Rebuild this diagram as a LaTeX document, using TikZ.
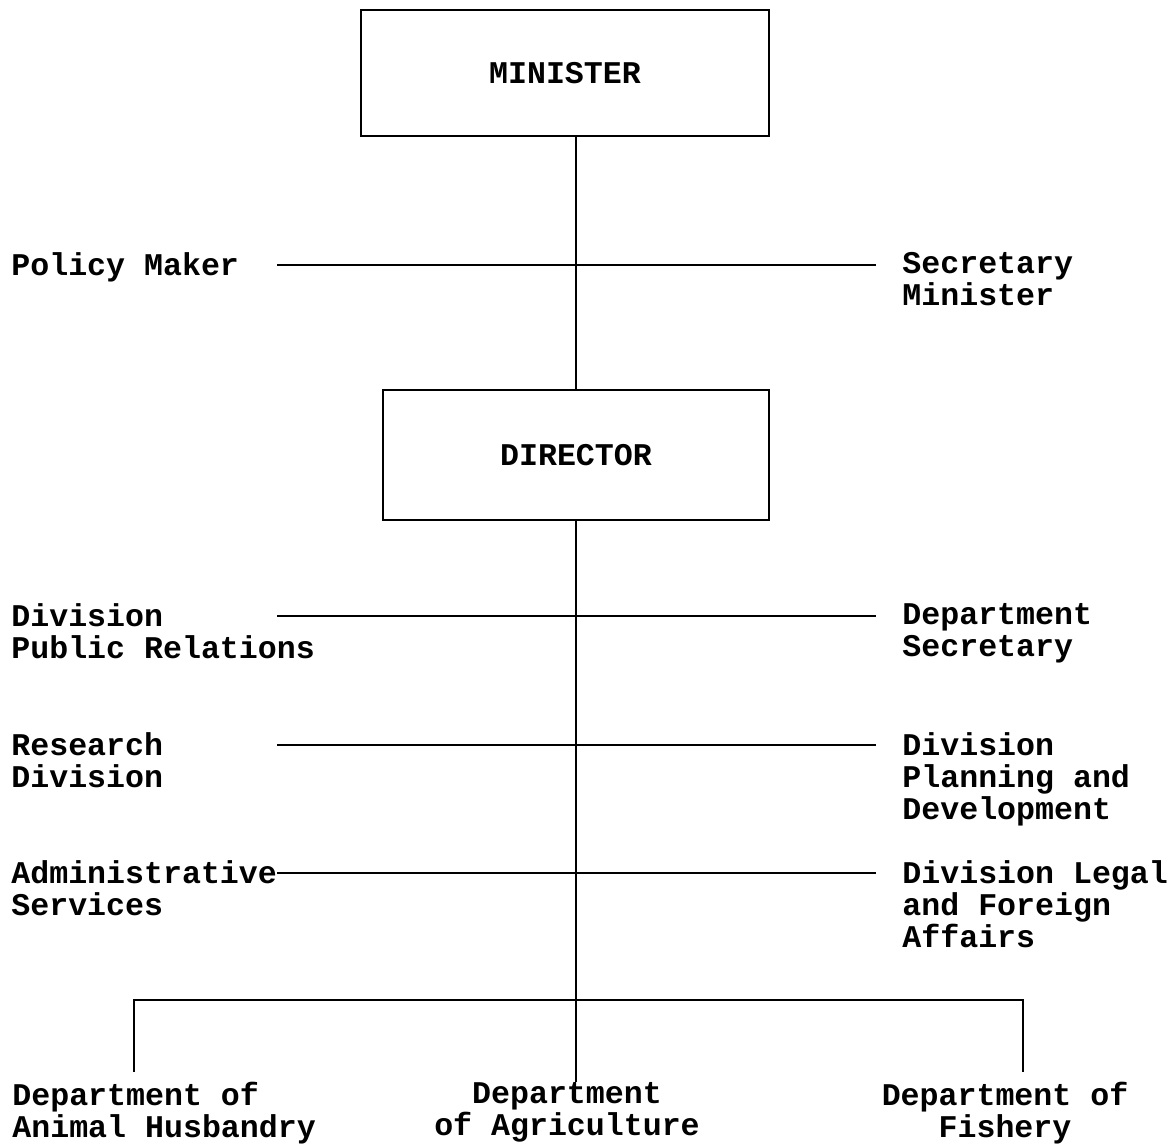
\documentclass[tikz,border=0pt]{standalone}
\usepackage{fontspec}
\setmonofont{Liberation Mono}
\usepackage{tikz}
\usetikzlibrary{positioning}

\newcommand{\orgfont}{\fontsize{15.8}{16}\selectfont\ttfamily\bfseries}
\tikzset{
  post/.style={draw, line width=1.2pt, inner sep=0pt, font=\orgfont},
  lab/.style={inner sep=0pt, align=left, anchor=north west, font=\orgfont},
  link/.style={line width=1.2pt},
}

\begin{document}
\begin{tikzpicture}[x=0.5pt, y=-0.5pt]
  \useasboundingbox (0,0) rectangle (1171,1145);
  % the two boxes on the spine
  \node[post, minimum width=204pt, minimum height=63pt] (minister) at (565,73) {MINISTER};
  \node[post, minimum width=193pt, minimum height=65pt] (director) at (576,455) {DIRECTOR};
  \draw[link] (director.north |- minister.south) -- (director.north);

  % side offices, left and right of the spine
  \foreach \y/\lt/\rt [count=\i] in {
      265/{Policy Maker}/{Secretary\\Minister},
      616/{Division\\Public Relations}/{Department\\Secretary},
      745/{Research\\Division}/{Division\\Planning and\\Development},
      873/{Administrative\\Services}/{Division Legal\\and Foreign\\Affairs}}{
    \node[lab] (left\i) at (11,\y-13) {\lt};
    \node[lab] (right\i) at (902,\y-13) {\rt};
    \coordinate (L\i) at (277,\y);
    \coordinate (R\i) at (876,\y);
    \draw[link] (L\i) -- (R\i);
  }

  % departments
  \node[lab] (husbandry) at (12,1082) {Department of\\Animal Husbandry};
  \node[lab, anchor=north, align=center] (agriculture) at (567,1082) {Department\\of Agriculture};
  \node[lab, anchor=north, align=center] (fishery) at (1005,1082) {Department of\\Fishery};
  \coordinate (busL) at (134,1000);
  \coordinate (busR) at (1023,1000);
  \draw[link] (director.south) -- (director.south |- agriculture.north);
  \draw[link, shorten <=5pt, shorten >=5pt] (busL |- husbandry.north) -- (busL) -- (busR) -- (busR |- fishery.north);
\end{tikzpicture}
\end{document}
